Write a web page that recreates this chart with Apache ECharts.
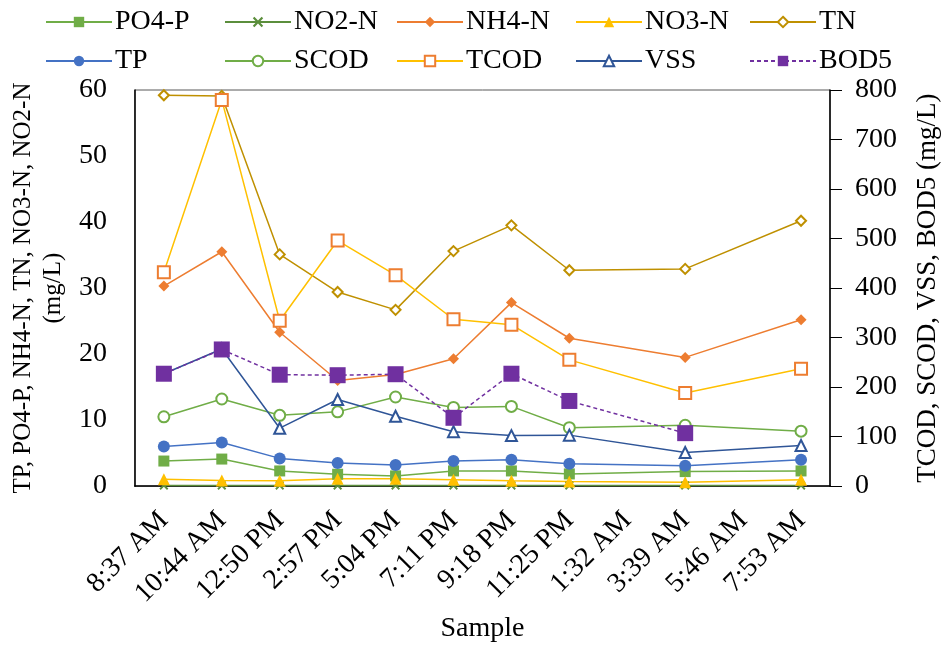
<!DOCTYPE html>
<html><head><meta charset="utf-8">
<script src="https://cdn.jsdelivr.net/npm/echarts@6/dist/echarts.min.js"></script>
<style>html,body{margin:0;padding:0;background:#fff}#c{width:949px;height:648px}</style>
</head><body><div id="c"></div>
<script>
var categories = ['8:37 AM','10:44 AM','12:50 PM','2:57 PM','5:04 PM','7:11 PM','9:18 PM','11:25 PM','1:32 AM','3:39 AM','5:46 AM','7:53 AM'];
var po4p = [3.8, 4.1, 2.3, 1.8, 1.55, 2.3, 2.3, 1.85, null, 2.2, null, 2.3];
var no2n = [0.1, 0.1, 0.1, 0.1, 0.1, 0.1, 0.1, 0.1, null, 0.1, null, 0.1];
var nh4n = [30.3, 35.5, 23.3, 16.0, 16.9, 19.3, 27.8, 22.4, null, 19.5, null, 25.2];
var no3n = [1.05, 0.85, 0.8, 1.1, 1.1, 0.95, 0.8, 0.7, null, 0.6, null, 0.95];
var tn = [59.2, 59.1, 35.1, 29.4, 26.7, 35.6, 39.5, 32.7, null, 32.9, null, 40.2];
var tp = [6.0, 6.6, 4.2, 3.5, 3.2, 3.8, 4.0, 3.4, null, 3.1, null, 4.0];
var scod = [140, 176, 143, 150, 180, 159, 161, 118, null, 123, null, 111];
var tcod = [432, 780, 334, 496, 426, 337, 326, 255, null, 188, null, 237];
var vss = [227, 277, 117, 175, 141, 110, 102, 103, null, 68, null, 82];
var bod5 = [227, 276, 225, 224, 226, 138, 227, 172, null, 107, null, null];
var leftTicks = [0, 10, 20, 30, 40, 50, 60];
var rightTicks = [0, 100, 200, 300, 400, 500, 600, 700, 800];

var FONT = 'Liberation Serif';
var xMark = 'path://M0,1.5L1.5,0L5,3.5L8.5,0L10,1.5L6.5,5L10,8.5L8.5,10L5,6.5L1.5,10L0,8.5L3.5,5Z';

var defs = [
  {name:'PO4-P', data:po4p, y:0, color:'#70AD47', symbol:'rect', size:11},
  {name:'NO2-N', data:no2n, y:0, color:'#5B8E3C', symbol:xMark, size:9},
  {name:'NH4-N', data:nh4n, y:0, color:'#ED7D31', symbol:'diamond', size:11},
  {name:'NO3-N', data:no3n, y:0, color:'#FFC000', symbol:'triangle', size:12},
  {name:'TN', data:tn, y:0, color:'#BF9000', symbol:'emptyDiamond', size:10},
  {name:'TP', data:tp, y:0, color:'#4472C4', symbol:'circle', size:12},
  {name:'SCOD', data:scod, y:1, color:'#70AD47', symbol:'emptyCircle', size:11},
  {name:'TCOD', data:tcod, y:1, color:'#FFC000', border:'#ED7D31', symbol:'emptyRect', size:12},
  {name:'VSS', data:vss, y:1, color:'#2F5597', symbol:'emptyTriangle', size:11},
  {name:'BOD5', data:bod5, y:1, color:'#7030A0', symbol:'rect', size:16, dashed:true}
];

var series = defs.map(function(d){
  var empty = d.symbol.indexOf('empty') === 0;
  var mc = d.border || d.color;
  return {
    name:d.name, type:'line', yAxisIndex:d.y, data:d.data, connectNulls:true,
    symbol:d.symbol, symbolSize:d.size, showAllSymbol:true,
    color:d.color,
    lineStyle:{color:d.color, width:1.5, type:d.dashed?[4,3]:'solid'},
    itemStyle:{color:mc, borderColor:mc, borderWidth: empty ? 2 : 0},
    emphasis:{disabled:true}, animation:false
  };
});

var colX = [45, 224, 396, 575, 749];
var legends = defs.map(function(d,i){
  return {
    data:[d.name], left: colX[i%5], top: i<5 ? 8 : 47, padding:0,
    itemWidth:66, itemHeight:13, itemGap:8,
    textStyle:{fontFamily:FONT, fontSize:28, color:'#000', padding:[0,0,0,-2]},
    selectedMode:false
  };
});

var chart = echarts.init(document.getElementById('c'), null, {renderer:'canvas'});
chart.setOption({
  animation:false,
  backgroundColor:'#fff',
  legend: legends,
  grid:{left:131, right:111, top:90, bottom:160, show:true, borderColor:'#595959', borderWidth:1},
  xAxis:{
    type:'category', data:categories, boundaryGap:true,
    name:'Sample', nameLocation:'middle', nameGap:128,
    nameTextStyle:{fontFamily:FONT, fontSize:28, color:'#000'},
    axisLine:{lineStyle:{color:'#000', width:1.5}},
    axisTick:{show:false},
    axisLabel:{rotate:45, interval:0, margin:30, fontFamily:FONT, fontSize:28, color:'#000'}
  },
  yAxis:[
    {type:'value', min:leftTicks[0], max:leftTicks[leftTicks.length-1], interval:10, position:'left',
     name:'TP, PO4-P, NH4-N, TN, NO3-N, NO2-N\n(mg/L)', nameLocation:'middle', nameGap:63, nameRotate:90,
     nameTextStyle:{fontFamily:FONT, fontSize:25, color:'#000', lineHeight:30},
     axisLine:{show:true, lineStyle:{color:'#000', width:1.5}}, axisTick:{show:false}, splitLine:{show:false},
     axisLabel:{fontFamily:FONT, fontSize:28, color:'#000', margin:28}},
    {type:'value', min:rightTicks[0], max:rightTicks[rightTicks.length-1], interval:100, position:'right',
     name:'TCOD, SCOD, VSS, BOD5 (mg/L)', nameLocation:'middle', nameGap:84, nameRotate:90,
     nameTextStyle:{fontFamily:FONT, fontSize:27, color:'#000'},
     axisLine:{show:true, lineStyle:{color:'#000', width:1.5}},
     axisTick:{show:true, inside:false, length:12, lineStyle:{color:'#000'}}, splitLine:{show:false},
     axisLabel:{fontFamily:FONT, fontSize:28, color:'#000', margin:25}}
  ],
  series: series
});
</script></body></html>
